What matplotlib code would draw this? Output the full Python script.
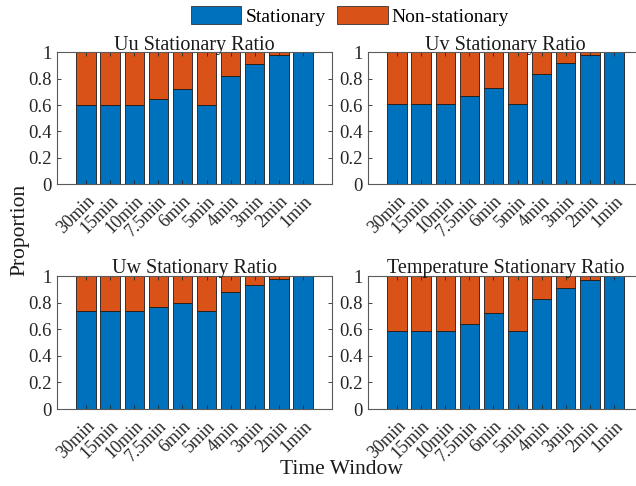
import matplotlib

matplotlib.use("Agg")
from matplotlib import pyplot as plt
from matplotlib.patches import Patch
import numpy as np

plt.rcParams["font.family"] = ["Liberation Serif", "DejaVu Serif"]

windows = ["30min", "15min", "10min", "7.5min", "6min", "5min", "4min", "3min", "2min", "1min"]

uu_stationary = [0.60, 0.60, 0.60, 0.65, 0.72, 0.60, 0.82, 0.91, 0.98, 1.00]
uv_stationary = [0.61, 0.61, 0.61, 0.67, 0.73, 0.61, 0.84, 0.92, 0.98, 1.00]
uw_stationary = [0.74, 0.74, 0.74, 0.77, 0.80, 0.74, 0.88, 0.93, 0.98, 1.00]
temp_stationary = [0.59, 0.59, 0.59, 0.64, 0.72, 0.59, 0.83, 0.91, 0.97, 1.00]

titles = [
    "Uu Stationary Ratio",
    "Uv Stationary Ratio",
    "Uw Stationary Ratio",
    "Temperature Stationary Ratio",
]

BLUE = "#0072BD"
ORANGE = "#D95319"
AXIS_GREY = "#5a5a5a"

W, H = 636, 486
fig = plt.figure(figsize=(W / 100, H / 100), dpi=100)

# panel boxes in pixels: (left, top, width, height)
boxes = [
    (57, 52.5, 275, 131.5),
    (368, 52.5, 275, 131.5),
    (57, 276, 275, 133),
    (368, 276, 275, 133),
]

series = [uu_stationary, uv_stationary, uw_stationary, temp_stationary]

for (px, py, pw, ph), title, stat in zip(boxes, titles, series):
    ax = fig.add_axes([px / W, (H - py - ph) / H, pw / W, ph / H])
    x = np.arange(len(windows))
    stat = np.array(stat)
    non = 1 - stat
    ax.bar(x, stat, width=0.8, color=BLUE, edgecolor="#1a1a1a", linewidth=0.6)
    ax.bar(x, non, width=0.8, bottom=stat, color=ORANGE, edgecolor="#1a1a1a", linewidth=0.6)
    ax.set_xlim(-1.2, 10.2)
    ax.set_ylim(0, 1)
    ax.set_yticks([0, 0.2, 0.4, 0.6, 0.8, 1])
    ax.set_yticklabels(["0", "0.2", "0.4", "0.6", "0.8", "1"])
    ax.set_xticks(x)
    ax.set_xticklabels(windows, rotation=45, ha="right", rotation_mode="anchor")
    ax.tick_params(direction="in", length=3, width=0.6, color="#262626",
                   top=True, right=True, labelsize=13.5, labelcolor="#262626", pad=4)
    ax.tick_params(axis="x", labelsize=13, pad=6)
    for sp in ax.spines.values():
        sp.set_color(AXIS_GREY)
        sp.set_linewidth(0.8)
    ax.set_title(title, fontsize=14.5, pad=2.0, color="#1a1a1a")

fig.text(20 / W, 1 - 230 / H, "Proportion", rotation=90, ha="center", va="center",
         fontsize=15.5, color="#1a1a1a")
fig.text(341 / W, 1 - 469 / H, "Time Window", ha="center", va="center",
         fontsize=15.5, color="#1a1a1a")

handles = [
    Patch(facecolor=BLUE, edgecolor="#333333", linewidth=0.6, label="Stationary"),
    Patch(facecolor=ORANGE, edgecolor="#333333", linewidth=0.6, label="Non-stationary"),
]
fig.legend(handles=handles, loc="center", bbox_to_anchor=(350 / W, 1 - 16 / H),
           ncol=2, frameon=False, fontsize=14, handlelength=2.6, handleheight=1.0,
           handletextpad=0.2, columnspacing=0.6)

fig.savefig("out.png", dpi=100)
